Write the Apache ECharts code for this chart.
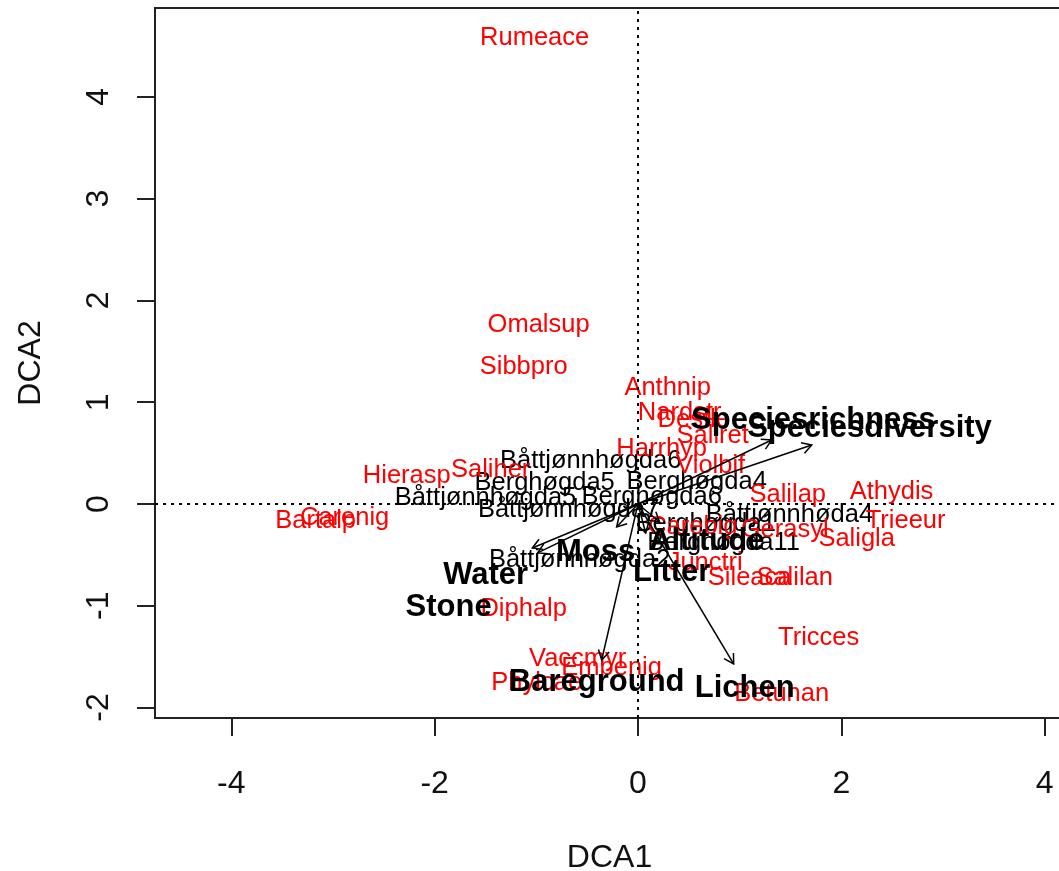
<!DOCTYPE html>
<html>
<head>
<meta charset="utf-8">
<title>DCA ordination</title>
<script src="https://cdn.jsdelivr.net/npm/echarts@6/dist/echarts.min.js"></script>
<style>
  html, body { margin: 0; padding: 0; background: #ffffff; }
  #chart { width: 1059px; height: 871px; }
</style>
</head>
<body>
<div id="chart"></div>
<script>
// Axis ticks
const xTicks = [-4, -2, 0, 2, 4];
const yTicks = [-2, -1, 0, 1, 2, 3, 4];

// Site scores (black labels)
const siteNames = ['Båttjønnhøgda6', 'Berghøgda5', 'Berghøgda4', 'Båttjønnhøgda5', 'Berghøgda6',
  'Båttjønnhøgda7', 'Båttjønnhøda4', 'Berghøgda1', 'Berghøgda11', 'Båttjønnhøgda2'];
const siteX = [-0.465, -0.918, 0.577, -1.499, 0.135, -0.682, 1.490, 0.666, 0.843, -0.574];
const siteY = [0.423, 0.206, 0.216, 0.059, 0.069, -0.059, -0.108, -0.197, -0.383, -0.550];

// Species scores (red labels)
const speciesNames = ['Rumeace', 'Omalsup', 'Sibbpro', 'Anthnip', 'Nardstr', 'Desfle', 'Saliret',
  'Harrhyp', 'Violbif', 'Salilap', 'Athydis', 'Trieeur', 'Saligla', 'Salilan', 'Sileaca',
  'Tricces', 'Betunan', 'Diphalp', 'Vaccmyr', 'Empenig', 'Phylcae', 'Hierasp', 'Saliher',
  'Carenig', 'Bartalp', 'Carebig', 'Gerasyl', 'Junctri'];
const speciesX = [-1.016, -0.977, -1.124, 0.292, 0.410, 0.548, 0.735,
  0.233, 0.715, 1.473, 2.494, 2.632, 2.151, 1.541, 1.098,
  1.777, 1.413, -1.124, -0.593, -0.259, -0.996, -2.274, -1.449,
  -2.885, -3.170, 0.539, 1.443, 0.661];
const speciesY = [4.579, 1.759, 1.346, 1.140, 0.894, 0.825, 0.668,
  0.540, 0.373, 0.088, 0.118, -0.167, -0.344, -0.727, -0.727,
  -1.317, -1.867, -1.032, -1.523, -1.611, -1.759, 0.275, 0.334,
  -0.138, -0.167, -0.226, -0.255, -0.580];

// Fitted environmental vectors: arrow heads and label positions
const envNames = ['Speciesrichness', 'Speciesdiversity', 'Altitude', 'Litter', 'Moss',
  'Water', 'Stone', 'Bareground', 'Lichen'];
const envArrowX = [1.315, 1.709, 0.213, 0.076, -0.210, -1.039, -0.987, -0.357, 0.941];
const envArrowY = [0.629, 0.580, -0.177, -0.285, -0.226, -0.432, -0.481, -1.533, -1.572];
const envLabelX = [1.726, 2.277, 0.676, 0.331, -0.416, -1.498, -1.862, -0.406, 1.050];
const envLabelY = [0.825, 0.747, -0.373, -0.668, -0.481, -0.707, -1.012, -1.749, -1.808];

const FONT = '"Liberation Sans", Arial, Helvetica, sans-serif';

function pairs(xs, ys) {
  return xs.map((x, i) => [x, ys[i]]);
}

function textSeries(names, xs, ys, color, size, weight) {
  return {
    type: 'custom',
    silent: true,
    clip: false,
    data: pairs(xs, ys),
    renderItem: function (params, api) {
      const p = api.coord([api.value(0), api.value(1)]);
      return {
        type: 'text',
        x: p[0],
        y: p[1],
        style: {
          text: names[params.dataIndex],
          fill: color,
          fontSize: size,
          fontWeight: weight,
          fontFamily: FONT,
          align: 'center',
          verticalAlign: 'middle'
        }
      };
    }
  };
}

const arrowSeries = {
  type: 'custom',
  silent: true,
  clip: false,
  data: pairs(envArrowX, envArrowY),
  renderItem: function (params, api) {
    const o = api.coord([0, 0]);
    const t = api.coord([api.value(0), api.value(1)]);
    const ang = Math.atan2(t[1] - o[1], t[0] - o[0]);
    const len = 11, spread = Math.PI / 6;
    const h1 = [t[0] - len * Math.cos(ang - spread), t[1] - len * Math.sin(ang - spread)];
    const h2 = [t[0] - len * Math.cos(ang + spread), t[1] - len * Math.sin(ang + spread)];
    const st = { stroke: '#000', lineWidth: 1.5, fill: null };
    return {
      type: 'group',
      children: [
        { type: 'line', shape: { x1: o[0], y1: o[1], x2: t[0], y2: t[1] }, style: st },
        { type: 'polyline', shape: { points: [h1, t, h2] }, style: st }
      ]
    };
  }
};

const chart = echarts.init(document.getElementById('chart'), null, { renderer: 'canvas' });

chart.setOption({
  backgroundColor: '#ffffff',
  animation: false,
  grid: {
    show: true,
    left: 155,
    top: 8,
    width: 909,
    height: 710,
    outerBoundsMode: 'none',
    containLabel: false,
    borderColor: '#222',
    borderWidth: 2,
    backgroundColor: 'transparent'
  },
  xAxis: {
    type: 'value',
    min: -4.75,
    max: 4.19,
    name: 'DCA1',
    nameLocation: 'middle',
    nameGap: 124,
    nameTextStyle: { fontSize: 32, fontFamily: FONT, color: '#111' },
    axisLine: { show: false, onZero: false },
    splitLine: { show: false },
    axisTick: {
      show: true, length: 18, inside: false,
      customValues: xTicks,
      lineStyle: { color: '#222', width: 2 }
    },
    axisLabel: {
      show: true, margin: 50,
      customValues: xTicks,
      fontSize: 32, fontFamily: FONT, color: '#111'
    }
  },
  yAxis: {
    type: 'value',
    min: -2.103,
    max: 4.874,
    name: 'DCA2',
    nameLocation: 'middle',
    nameGap: 108,
    nameRotate: 90,
    nameTextStyle: { fontSize: 32, fontFamily: FONT, color: '#111' },
    axisLine: { show: false, onZero: false },
    splitLine: { show: false },
    axisTick: {
      show: true, length: 18, inside: false,
      customValues: yTicks,
      lineStyle: { color: '#222', width: 2 }
    },
    axisLabel: {
      show: true, margin: 40, rotate: 90,
      customValues: yTicks,
      fontSize: 32, fontFamily: FONT, color: '#111'
    }
  },
  series: [
    {
      type: 'scatter',
      data: [],
      silent: true,
      markLine: {
        silent: true,
        symbol: ['none', 'none'],
        label: { show: false },
        lineStyle: { color: '#000', width: 2, type: [3, 5] },
        data: [{ xAxis: 0 }, { yAxis: 0 }]
      }
    },
    textSeries(siteNames, siteX, siteY, '#000000', 25.5, 'normal'),
    textSeries(speciesNames, speciesX, speciesY, '#ff0000', 25.5, 'normal'),
    arrowSeries,
    textSeries(envNames, envLabelX, envLabelY, '#000000', 31, 'bold')
  ]
});
</script>
</body>
</html>
